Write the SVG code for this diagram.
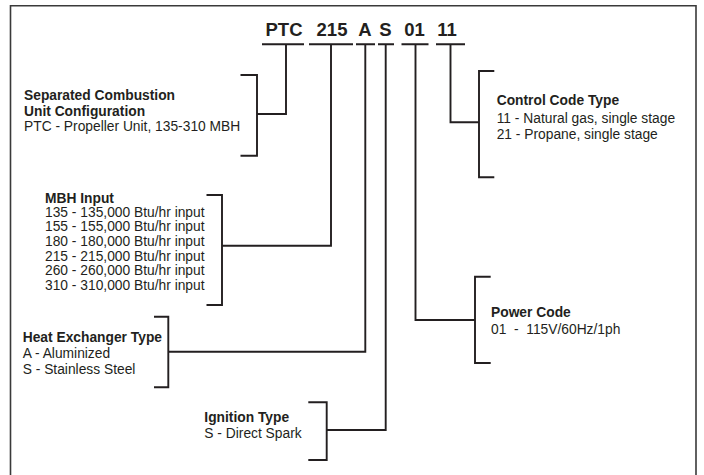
<svg xmlns="http://www.w3.org/2000/svg" width="704" height="475" viewBox="0 0 704 475">
<style>
text{font-family:"Liberation Sans",Arial,Helvetica,sans-serif;fill:#231f20;font-size:13.8px}
.b{font-weight:bold}
.code{font-weight:bold;font-size:18.5px;text-anchor:middle}
.ln{fill:none;stroke:#231f20;stroke-width:1.9}
.frame{fill:none;stroke:#3a3a3a;stroke-width:1.6}
</style>
<rect width="704" height="475" fill="#ffffff"/>
<path class="frame" d="M10.5,480 V5.8 H696 V480"/>
<g id="code">
<text class="code" x="284" y="35.5">PTC</text>
<text class="code" x="332" y="35.5">215</text>
<text class="code" x="365" y="35.5">A</text>
<text class="code" x="385.5" y="35.5">S</text>
<text class="code" x="414.5" y="35.5">01</text>
<text class="code" x="447" y="35.5">11</text>
<path class="ln" d="M262,44.3H304M309,44.3H353M356,44.3H375M378,44.3H394M401.5,44.3H428.5M436,44.3H465"/>
</g>
<g id="connectors">
<path class="ln" d="M286,44.3V114H257"/>
<path class="ln" d="M331,44.3V245.7H222"/>
<path class="ln" d="M365.3,44.3V351.7H168.3"/>
<path class="ln" d="M385.7,44.3V430H326.7"/>
<path class="ln" d="M415.5,44.3V320H475"/>
<path class="ln" d="M450.5,44.3V122.3H479"/>
</g>
<g id="unit-config">
<path class="ln" d="M240.5,75H257V155.7H240.5"/>
<text class="b" x="24" y="100">Separated Combustion</text>
<text class="b" x="24" y="115.5">Unit Configuration</text>
<text x="24" y="130.8">PTC - Propeller Unit, 135-310 MBH</text>
</g>
<g id="mbh-input">
<path class="ln" d="M206.5,195H222V305H206.5"/>
<text class="b" x="45" y="202.5">MBH Input</text>
<text x="45" y="216.8">135 - 135,000 Btu/hr input</text>
<text x="45" y="231.4">155 - 155,000 Btu/hr input</text>
<text x="45" y="246">180 - 180,000 Btu/hr input</text>
<text x="45" y="260.6">215 - 215,000 Btu/hr input</text>
<text x="45" y="275.2">260 - 260,000 Btu/hr input</text>
<text x="45" y="289.8">310 - 310,000 Btu/hr input</text>
</g>
<g id="heat-exchanger">
<path class="ln" d="M154,316.7H168.3V387.3H154"/>
<text class="b" x="22.7" y="341.7">Heat Exchanger Type</text>
<text x="22.7" y="357.5">A - Aluminized</text>
<text x="22.7" y="374">S - Stainless Steel</text>
</g>
<g id="ignition">
<path class="ln" d="M308.3,402.3H326.7V460H308.3"/>
<text class="b" x="204.3" y="421.7">Ignition Type</text>
<text x="204.3" y="438.3">S - Direct Spark</text>
</g>
<g id="control-code">
<path class="ln" d="M494.3,71H479V177.3H494.3"/>
<text class="b" x="496.7" y="105">Control Code Type</text>
<text x="496.7" y="123.3">11 - Natural gas, single stage</text>
<text x="496.7" y="139">21 - Propane, single stage</text>
</g>
<g id="power-code">
<path class="ln" d="M490.7,276.7H475V363H490.7"/>
<text class="b" x="491" y="317.3">Power Code</text>
<text x="491" y="334" xml:space="preserve">01  -  115V/60Hz/1ph</text>
</g>
</svg>
